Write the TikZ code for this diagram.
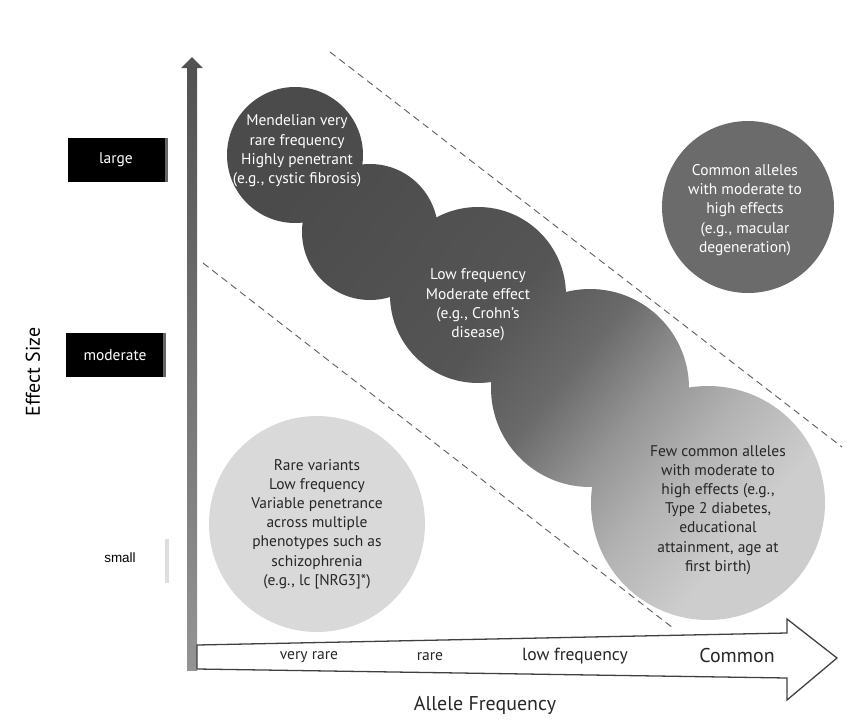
\documentclass[tikz,border=0pt]{standalone}
\usepackage{fontspec}
\setmainfont{PT Sans}
\newfontfamily\lblfont{Liberation Sans}
\definecolor{c1}{HTML}{4B4B4B}
\definecolor{c2}{HTML}{555555}
\definecolor{c3}{HTML}{6A6A6A}
\definecolor{c4}{HTML}{959595}
\definecolor{c5}{HTML}{B2B2B2}
\definecolor{c6}{HTML}{CDCDCD}
\pgfdeclarehorizontalshading{chain}{100bp}{color(0bp)=(c1); color(25bp)=(c1); color(46bp)=(c2); color(54bp)=(c3); color(61bp)=(c4); color(67bp)=(c5); color(75bp)=(c6); color(100bp)=(c6)}
\begin{document}
\begin{tikzpicture}[x=0.03cm,y=-0.03cm,
  ctext/.style={align=center, font=\fontsize{13.2}{16.4}\selectfont},
  axtext/.style={font=\fontsize{13.3}{15}\selectfont, text=black!85},
  dline/.style={draw=black!62, dash pattern=on 6pt off 4pt, line width=0.8pt},
  blackbox/.style={fill=black, draw=none},
]
\useasboundingbox (0,0) rectangle (855,721);

% dashed boundaries
\coordinate (u1) at (330,52);
\coordinate (u2) at (842,447);
\coordinate (l1) at (203,263);
\coordinate (l2) at (673,628);
\draw[dline] (u1) -- (u2);
\draw[dline] (l1) -- (l2);

% chain of circles
\path[shading=chain, shading angle=-40]
  (295,155) circle[radius=68]
  (370,232) circle[radius=68]
  (478,295) circle[radius=88]
  (590,388) circle[radius=99]
  (708,503) circle[radius=117];

% separate circles
\fill[black!58] (748,207) circle[radius=86];
\fill[black!15] (317,524) circle[radius=108];

% circle texts
\node[ctext, text=white] (mend) at (297,151) {Mendelian very\\rare frequency\\Highly penetrant\\(e.g., cystic fibrosis)};
\node[ctext, text=white] (lowf) at (478,305) {Low frequency\\Moderate effect\\(e.g., Crohn’s\\disease)};
\node[ctext, text=white] (comm) at (745,210) {Common alleles\\with moderate to\\high effects\\(e.g., macular\\degeneration)};
\node[ctext, text=black!85] (few) at (718,510) {Few common alleles\\with moderate to\\high effects (e.g.,\\Type 2 diabetes,\\educational\\attainment, age at\\first birth)};
\node[ctext, text=black!85] (rare) at (317,524) {Rare variants\\Low frequency\\Variable penetrance\\across multiple\\phenotypes such as\\schizophrenia\\(e.g., lc [NRG3]*)};

% vertical axis
\shade[top color=black!68, bottom color=black!42] (187,68) rectangle (197,670);
\fill[black!68] (181,68) -- (192,57) -- (203,68) -- cycle;
\coordinate (ytop) at (192,57);

% horizontal axis arrow
\draw[fill=white, draw=black!75, line width=1.1pt, line join=miter]
  (197,645) -- (787,633) -- (787,619) -- (837,658) -- (787,700) -- (787,678) -- (197,669) -- cycle;
\node[axtext] (vr) at (309,657) {very rare};
\node[axtext] (ra) at (430,657) {rare};
\node[axtext, font=\fontsize{15}{16}\selectfont] (lf) at (575,656) {low frequency};
\node[axtext, font=\fontsize{17}{18}\selectfont] (co) at (737,656) {Common};

% axis titles
\node[font=\fontsize{17}{18}\selectfont, text=black!85] (xt) at (485,705) {Allele Frequency};
\node[font=\fontsize{17}{18}\selectfont, text=black, rotate=90] (yt) at (33,372) {Effect Size};

% effect size boxes
\fill[blackbox] (68,138) rectangle (168,182);
\fill[black!60] (165,138) rectangle (168,182);
\node[font=\fontsize{13.2}{15}\selectfont, text=white] (lg) at (116,160) {large};
\fill[blackbox] (66,333) rectangle (166,377);
\fill[black!60] (163,333) rectangle (166,377);
\node[font=\fontsize{13.2}{15}\selectfont, text=white] (md) at (115,355) {moderate};
\fill[black!13] (165,539) rectangle (169,583);
\node[font=\lblfont\fontsize{11.5}{13}\selectfont, text=black] (sm) at (120,558) {small};
\end{tikzpicture}
\end{document}
